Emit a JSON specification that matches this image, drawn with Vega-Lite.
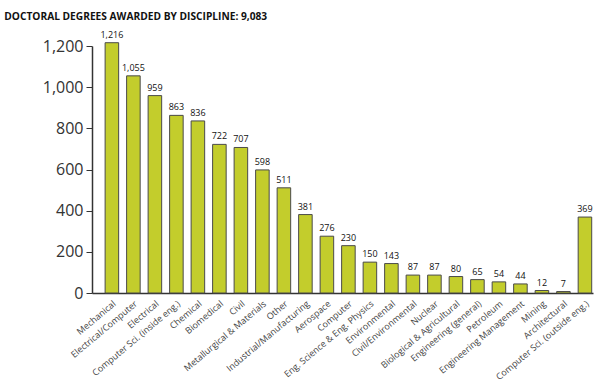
{
  "$schema": "https://vega.github.io/schema/vega-lite/v6.json",
  "width": 501,
  "height": 247,
  "autosize": "none",
  "padding": {"left": 92, "top": 46, "right": 7, "bottom": 99},
  "background": "white",
  "title": {
    "text": "DOCTORAL DEGREES AWARDED BY DISCIPLINE: 9,083",
    "anchor": "start",
    "dx": -38,
    "offset": 1,
    "baseline": "alphabetic",
    "font": "Open Sans",
    "fontSize": 10.2,
    "fontWeight": "bold",
    "color": "#111111"
  },
  "data": {
    "values": [
      {"discipline": "Mechanical", "degrees": 1216},
      {"discipline": "Electrical/Computer", "degrees": 1055},
      {"discipline": "Electrical", "degrees": 959},
      {"discipline": "Computer Sci. (inside eng.)", "degrees": 863},
      {"discipline": "Chemical", "degrees": 836},
      {"discipline": "Biomedical", "degrees": 722},
      {"discipline": "Civil", "degrees": 707},
      {"discipline": "Metallurgical & Materials", "degrees": 598},
      {"discipline": "Other", "degrees": 511},
      {"discipline": "Industrial/Manufacturing", "degrees": 381},
      {"discipline": "Aerospace", "degrees": 276},
      {"discipline": "Computer", "degrees": 230},
      {"discipline": "Eng. Science & Eng. Physics", "degrees": 150},
      {"discipline": "Environmental", "degrees": 143},
      {"discipline": "Civil/Environmental", "degrees": 87},
      {"discipline": "Nuclear", "degrees": 87},
      {"discipline": "Biological & Agricultural", "degrees": 80},
      {"discipline": "Engineering (general)", "degrees": 65},
      {"discipline": "Petroleum", "degrees": 54},
      {"discipline": "Engineering Management", "degrees": 44},
      {"discipline": "Mining", "degrees": 12},
      {"discipline": "Architectural", "degrees": 7},
      {"discipline": "Computer Sci. (outside eng.)", "degrees": 369}
    ]
  },
  "encoding": {
    "x": {
      "field": "discipline",
      "type": "nominal",
      "sort": null,
      "scale": {"paddingInner": 0.37, "paddingOuter": 0.335, "align": 0.91},
      "axis": {
        "title": null,
        "labelAngle": -40,
        "labelFont": "Open Sans",
        "labelFontSize": 9,
        "labelColor": "#444444",
        "ticks": false,
        "labelPadding": 6,
        "domainColor": "#333333",
        "domainWidth": 1.5
      }
    },
    "y": {
      "field": "degrees",
      "type": "quantitative",
      "scale": {"domain": [0, 1200], "nice": false},
      "axis": {
        "title": null,
        "values": [0, 200, 400, 600, 800, 1000, 1200],
        "format": ",d",
        "grid": false,
        "labelFont": "Open Sans",
        "labelFontSize": 16,
        "labelColor": "#333333",
        "labelPadding": 3,
        "tickSize": 6,
        "tickColor": "#333333",
        "domainColor": "#333333",
        "domainWidth": 1.5
      }
    }
  },
  "layer": [
    {
      "mark": {"type": "bar", "color": "#C3CD2C", "stroke": "#4a4a4a", "strokeWidth": 1}
    },
    {
      "mark": {"type": "text", "baseline": "bottom", "dy": -3, "font": "Open Sans", "fontSize": 9, "color": "#111111"},
      "encoding": {"text": {"field": "degrees", "type": "quantitative", "format": ",d"}}
    }
  ],
  "config": {"view": {"stroke": null}}
}
